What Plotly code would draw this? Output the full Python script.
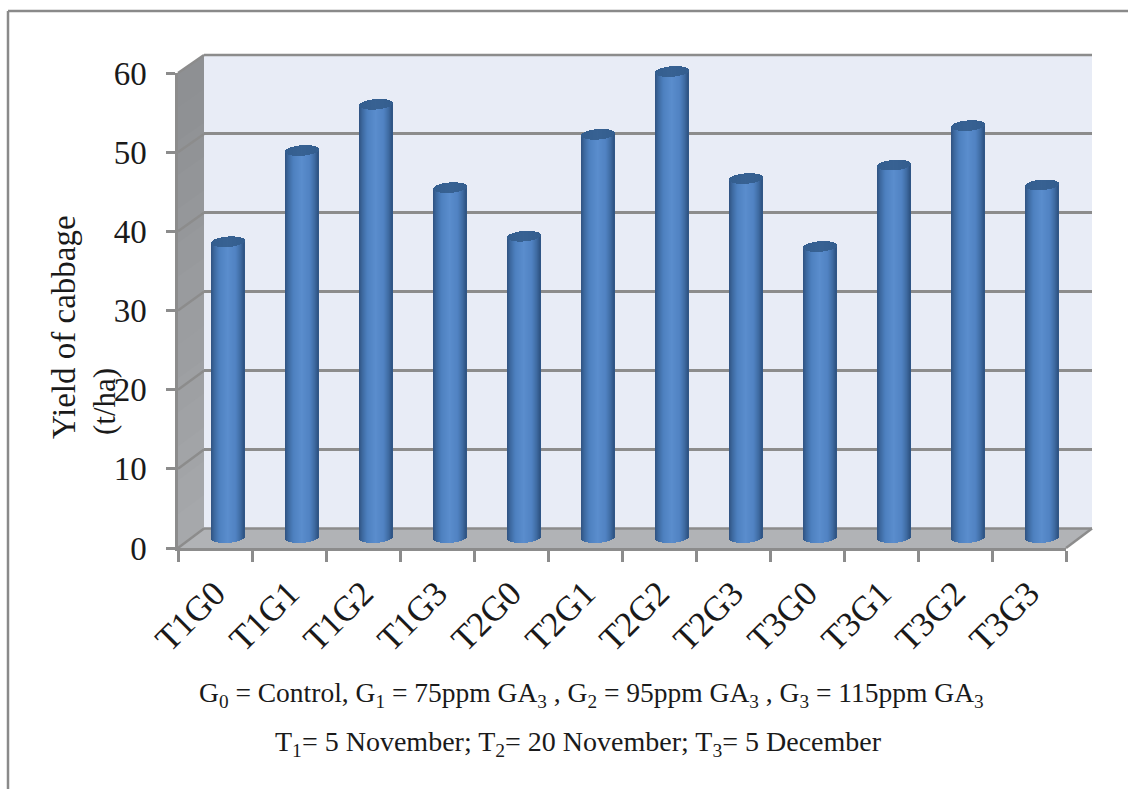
import math
import plotly.graph_objects as go

categories = ["T1G0","T1G1","T1G2","T1G3","T2G0","T2G1","T2G2","T2G3","T3G0","T3G1","T3G2","T3G3"]
yield_t_ha = [37.45,49.0,54.85,44.3,38.15,51.05,59.0,45.45,36.85,47.15,52.15,44.65]
y_ticks = [0,10,20,30,40,50,60]
y_title_1 = "Yield of cabbage"
y_title_2 = "(t/ha)"
note_1 = "G<sub>0</sub> = Control, G<sub>1</sub> = 75ppm GA<sub>3</sub> , G<sub>2</sub> = 95ppm GA<sub>3</sub> , G<sub>3</sub> = 115ppm GA<sub>3</sub>"
note_2 = "T<sub>1</sub>= 5 November; T<sub>2</sub>= 20 November; T<sub>3</sub>= 5 December"

W, H = 1128, 789
FONT = "Liberation Serif"
TEXT = "#1a1a1a"
GRID = "#8c8c8c"
WALL = "#e8ecf6"
FLOOR = "#b1b3b6"

def px(x): return x / W
def py(y): return 1 - y / H
def dom_x(a, b): return [px(a), px(b)]
def dom_y(top, bottom): return [py(bottom), py(top)]

# frame geometry (pixels)
FX0, FX1, FY60, FY0 = 178, 1066, 73, 548     # front edge of the box
BX0, BX1, BY60, BY0 = 204, 1092, 55, 528.5   # back wall
SCALE = (538 - 64) / 60                      # px per unit for bars
PPC = (FX1 - FX0) / 12                       # px per category

shapes = []
def poly(pts, fill, layer="below"):
    d = "M" + " L".join(f"{px(a):.5f},{py(b):.5f}" for a, b in pts) + " Z"
    shapes.append(dict(type="path", path=d, xref="paper", yref="paper", fillcolor=fill,
                       line=dict(width=0), layer=layer))
def seg(a, b, c, d, color=GRID, w=2.5, layer="below"):
    shapes.append(dict(type="line", x0=px(a), y0=py(b), x1=px(c), y1=py(d), xref="paper", yref="paper",
                       line=dict(color=color, width=w), layer=layer))

# outer frame
seg(8, 11, W, 11, "#8a8a8a", 2.5)
seg(8, 11, 8, H, "#8a8a8a", 2.5)
# back wall
poly([(BX0, BY60), (BX1, BY60), (BX1, BY0), (BX0, BY0)], WALL)
# side wall as shaded bands
bands = 14
for i in range(bands):
    t0, t1 = i / bands, (i + 1) / bands + 0.005
    g = int(142 + 26 * t0)
    c = f"rgb({g},{g+2},{g+5})"
    poly([(FX0, FY60 + (FY0 - FY60) * t0), (BX0, BY60 + (BY0 - BY60) * t0),
          (BX0, BY60 + (BY0 - BY60) * t1), (FX0, FY60 + (FY0 - FY60) * t1)], c)
# floor
poly([(FX0, FY0), (BX0, BY0), (BX1, BY0), (FX1, FY0)], FLOOR)
# side wall grid lines
for v in y_ticks:
    seg(FX0, FY0 - (FY0 - FY60) * v / 60, BX0, BY0 - (BY0 - BY60) * v / 60)
seg(FX1, FY0, BX1, BY0)
# back wall edges that the axis clips
seg(BX0, BY60, BX1, BY60)
seg(BX0, BY0, BX1, BY0)

fig = go.Figure()

# cylinder shading
N = 33
dw = 1 / PPC
E = 5.2 / SCALE
TILT = 1.2 / SCALE
stops = [(0, (47,82,128)), (0.1, (60,104,159)), (0.25, (77,128,191)), (0.5, (90,141,205)),
         (0.75, (80,130,194)), (0.9, (62,106,161)), (1, (46,82,129))]
def shade(t):
    for (a, ca), (b, cb) in zip(stops, stops[1:]):
        if t <= b:
            f = (t - a) / (b - a)
            return "rgb(%d,%d,%d)" % tuple(round(p + (q - p) * f) for p, q in zip(ca, cb))
    return "rgb(46,82,129)"

for part in ("body", "cap"):
    for j in range(N):
        t = (j + 0.5) / N
        u = 2 * t - 1
        e = E * math.sqrt(max(0, 1 - u * u))
        off = -N * dw / 2 + j * dw
        wid = dw * (1.6 if j < N - 1 else 1)
        if part == "body":
            base = [-e + TILT * u] * 12
            h = [v - b for v, b in zip(yield_t_ha, base)]
            col = shade(t)
        else:
            base = [v - e + TILT * u for v in yield_t_ha]
            h = [2 * e] * 12
            col = "rgb(%d,%d,%d)" % (52 + 4 * (1 - abs(u)), 94 + 4 * (1 - abs(u)), 143 + 4 * (1 - abs(u)))
        fig.add_trace(go.Bar(x=categories, y=h, base=base, width=wid, offset=off, marker=dict(color=col, line=dict(width=0)),
                             xaxis="x2", yaxis="y2", showlegend=False, hoverinfo="skip"))

# invisible traces to activate back and front axes
fig.add_trace(go.Scatter(x=categories, y=yield_t_ha, mode="markers", marker=dict(opacity=0), xaxis="x", yaxis="y",
                         showlegend=False, hoverinfo="skip"))
fig.add_trace(go.Scatter(x=categories, y=yield_t_ha, mode="markers", marker=dict(opacity=0), xaxis="x3", yaxis="y3",
                         showlegend=False, hoverinfo="skip"))

annos = [
    dict(text=y_title_1, x=px(64), y=py(327), textangle=-90, font=dict(size=33)),
    dict(text=y_title_2, x=px(104), y=py(402), textangle=-90, font=dict(size=31)),
    dict(text=note_1, x=px(591), y=py(694), font=dict(size=27.5)),
    dict(text=note_2, x=px(578), y=py(743), font=dict(size=28)),
]
for a in annos:
    a.update(xref="paper", yref="paper", showarrow=False, xanchor="center", yanchor="middle")
    a["font"].update(family=FONT, color=TEXT)

fig.update_layout(
    width=W, height=H, margin=dict(l=0, r=0, t=0, b=0, autoexpand=False), paper_bgcolor="white", plot_bgcolor="rgba(0,0,0,0)",
    barmode="overlay", bargap=0, shapes=shapes, annotations=annos, showlegend=False,
    # back wall gridlines
    xaxis=dict(domain=dom_x(BX0, BX1), type="category", categoryorder="array", categoryarray=categories,
               range=[-0.5, 11.5], visible=False),
    yaxis=dict(domain=dom_y(BY60, BY0), range=[0, 60], tickvals=y_ticks, showticklabels=False, ticks="",
               showgrid=True, gridcolor=GRID, gridwidth=2.5, zeroline=False, showline=False),
    # bars
    xaxis2=dict(domain=dom_x(FX0 + 13, FX1 + 13), type="category", categoryorder="array", categoryarray=categories,
                range=[-0.5, 11.5], visible=False, anchor="y2"),
    yaxis2=dict(domain=dom_y(538 - 64 * SCALE, 538 + 2 * SCALE), range=[-2, 64], visible=False, anchor="x2"),
    # front axes with ticks and labels
    xaxis3=dict(domain=dom_x(FX0, FX1), type="category", categoryorder="array", categoryarray=categories,
                range=[-0.5, 11.5], anchor="y3", tickson="boundaries", ticks="outside", ticklen=11, tickwidth=2.5,
                tickcolor=GRID, showline=True, linecolor=GRID, linewidth=2.5, showgrid=False, tickangle=-45,
                ticklabelstandoff=8, tickfont=dict(family=FONT, size=35, color=TEXT)),
    yaxis3=dict(domain=dom_y(FY60, FY0), range=[0, 60], tickvals=y_ticks, anchor="x3", ticks="outside", ticklen=9,
                tickwidth=2.5, tickcolor=GRID, showline=True, linecolor=GRID, linewidth=2.5, showgrid=False,
                zeroline=False, ticklabelstandoff=13, tickfont=dict(family=FONT, size=33, color=TEXT)),
)

fig.write_html("out.html", config=dict(displayModeBar=False), post_script="document.body.style.margin='0';")
